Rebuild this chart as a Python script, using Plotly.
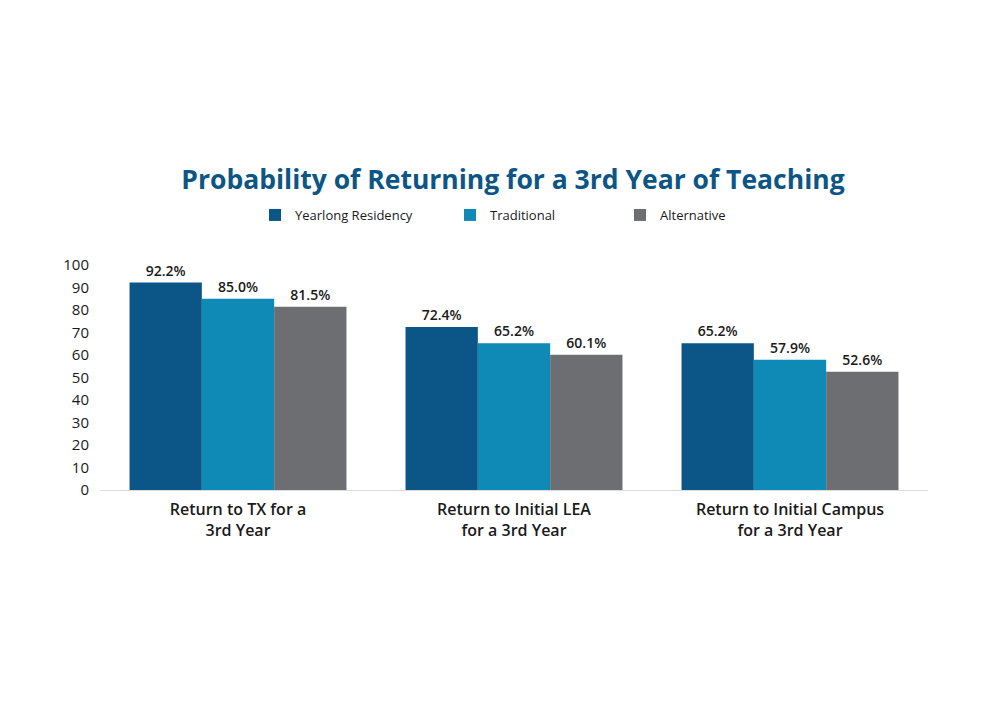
import plotly.graph_objects as go

categories = ["Return to TX for a<br>3rd Year", "Return to Initial LEA<br>for a 3rd Year", "Return to Initial Campus<br>for a 3rd Year"]
series_names = ["Yearlong Residency", "Traditional", "Alternative"]
yearlong = [92.2, 72.4, 65.2]
traditional = [85.0, 65.2, 57.9]
alternative = [81.5, 60.1, 52.6]
colors = ["#0b5687", "#0f8ab7", "#6d6e71"]
y_ticks = [0, 10, 20, 30, 40, 50, 60, 70, 80, 90, 100]

FONT = "Open Sans"
W, H = 1000, 708
OFF = 8  # page body margin offset
plot_top, plot_bottom, plot_left, plot_right = 265 - OFF, 490 - OFF, 100 - OFF, 928 - OFF
ph = plot_bottom - plot_top
pw = plot_right - plot_left

legend_keys = ["legend", "legend2", "legend3"]
legend_x_px = [263, 458, 628]

fig = go.Figure()
for name, vals, c, lk in zip(series_names, [yearlong, traditional, alternative], colors, legend_keys):
    fig.add_trace(go.Bar(
        x=categories, y=vals, name=name, marker_color=c, marker_line_width=0,
        text=[f"{v:.1f}%" for v in vals], textposition="outside",
        textfont=dict(size=14, color="#1a1a1a", family=FONT, weight=600),
        cliponaxis=False, legend=lk,
    ))

legend_y = (plot_bottom - (215 - OFF)) / ph
leg_common = dict(orientation="h", yanchor="middle", y=legend_y, xanchor="left",
                  font=dict(size=13, color="#1a1a1a", family=FONT), bgcolor="rgba(0,0,0,0)",
                  itemsizing="constant")
legends = {}
for lk, xp in zip(legend_keys, legend_x_px):
    d = dict(leg_common)
    d["x"] = (xp - OFF - 8 - plot_left) / pw
    legends[lk] = d

fig.update_layout(
    width=W, height=H,
    paper_bgcolor="white", plot_bgcolor="white",
    barmode="group", bargap=0.214, bargroupgap=0,
    margin=dict(l=plot_left, r=W - plot_right, t=plot_top, b=H - plot_bottom),
    font=dict(family=FONT, color="#1a1a1a"),
    title=dict(text="<b>Probability of Returning for a 3rd Year of Teaching</b>",
               x=(513 - OFF) / W, xanchor="center", y=1 - (180 - OFF) / H, yanchor="middle",
               font=dict(size=26.5, color="#0b5687", family=FONT)),
    showlegend=True,
    **legends,
)
fig.update_xaxes(showline=True, linecolor="#dcdcdc", linewidth=1, ticks="",
                 tickfont=dict(size=16, color="#1a1a1a", family=FONT, weight=600), showgrid=False,
                 ticklabelstandoff=5)
fig.update_yaxes(range=[0, 100], tickvals=y_ticks, showgrid=False, zeroline=False,
                 tickfont=dict(size=15, color="#1a1a1a", family=FONT), ticks="", ticklabelstandoff=10)

fig.write_html("out.html")
